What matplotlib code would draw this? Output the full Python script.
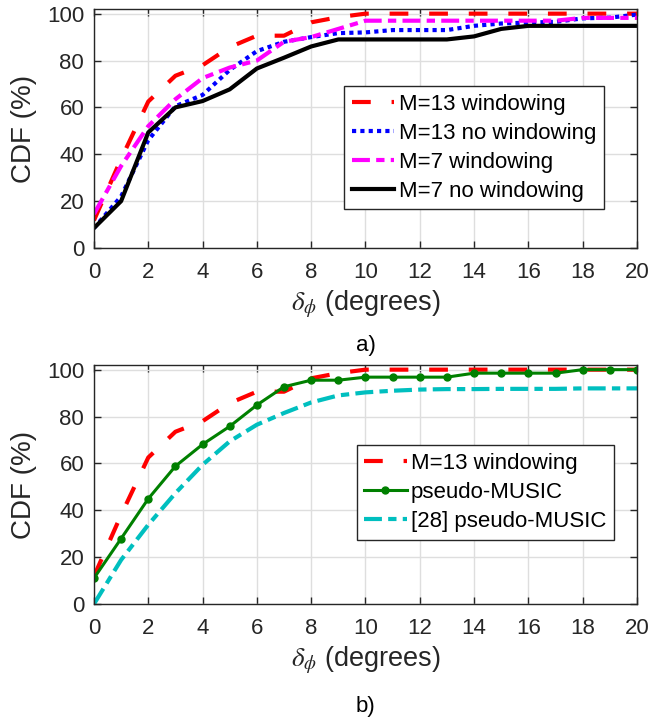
import numpy as np
import matplotlib
matplotlib.use('Agg')
import matplotlib.pyplot as plt

# error in degrees (x axis) and CDF values (%)
delta_phi = np.arange(0, 21)

m13_windowing = [11.8, 38, 62.5, 73.5, 78, 85.7, 90.6, 90.6, 96.3, 98.5, 100,
                 100, 100, 100, 100, 100, 100, 100, 100, 100, 100]
m13_no_windowing = [8.5, 22, 46, 60.5, 65.3, 76, 84, 88, 90, 91.7, 92,
                    93, 93, 93, 94.8, 95.8, 96.2, 96.5, 98, 98.3, 99.6]
m7_windowing = [14.5, 35, 52, 63.5, 72.5, 77, 80, 88, 90, 93.5, 97,
                97, 97, 97, 97, 97, 97, 97, 98.2, 98.2, 98.2]
m7_no_windowing = [8.5, 20, 49.3, 60, 62.7, 67.7, 76.6, 81.2, 86, 89, 89,
                   89, 89, 89, 90.3, 93.5, 94.8, 94.8, 94.8, 94.8, 94.8]
pseudo_music = [11, 27.9, 44.9, 58.8, 68.1, 75.8, 84.9, 92.7, 95.5, 95.5, 96.8,
                96.8, 96.8, 96.8, 98.5, 98.5, 98.5, 98.5, 100, 100, 100]
ref28_pseudo_music = [0, 18.8, 33.8, 47.3, 59.4, 69.4, 76.5, 81.5, 86, 89, 90.3,
                      91, 91.5, 91.7, 91.7, 91.8, 91.8, 91.8, 92, 92, 92]

x_ticks = list(range(0, 21, 2))
y_ticks = list(range(0, 101, 20))

plt.rcParams['font.family'] = ['Liberation Sans', 'DejaVu Sans']
plt.rcParams['mathtext.fontset'] = 'stix'

TXT = '#262626'


def style_axes(ax):
    ax.set_xlim(0, 20)
    ax.set_ylim(0, 102)
    ax.set_xticks(x_ticks)
    ax.set_yticks(y_ticks)
    ax.grid(True, color='#dedede', lw=1)
    ax.set_axisbelow(True)
    ax.tick_params(direction='in', top=True, right=True, length=5, width=1,
                   colors=TXT, labelsize=16)
    ax.tick_params(axis='x', pad=10)
    ax.tick_params(axis='y', pad=7)
    for s in ax.spines.values():
        s.set_color(TXT)
        s.set_linewidth(1)
    ax.set_xlabel(r'$\delta_{\phi}$ (degrees)', fontsize=19.5, color=TXT)
    ax.xaxis.set_label_coords(0.5, -0.17)
    ax.set_ylabel('CDF (%)', fontsize=20, color=TXT)
    ax.yaxis.set_label_coords(-0.105, 0.5)


def add_legend(ax, anchor):
    leg = ax.legend(loc='upper right', bbox_to_anchor=anchor, fontsize=16,
                    frameon=True, fancybox=False, edgecolor=TXT, framealpha=1,
                    handlelength=1.9, handletextpad=0.2, labelspacing=0.36,
                    borderpad=0.35, borderaxespad=0)
    leg.get_frame().set_linewidth(1)
    for t in leg.get_texts():
        t.set_color('black')


fig = plt.figure(figsize=(6.48, 7.18), dpi=100)

# a) windowing comparison
ax1 = fig.add_axes([0.145, 0.6546, 0.838, 0.3329])
ax1.plot(delta_phi, m13_windowing, color='red', lw=3, dashes=(4.5, 5),
         label='M=13 windowing')
ax1.plot(delta_phi, m13_no_windowing, color='blue', lw=3, dashes=(1, 1),
         label='M=13 no windowing')
ax1.plot(delta_phi, m7_windowing, color='magenta', lw=3, dashes=(4.3, 1.5, 2, 1.5),
         label='M=7 windowing')
ax1.plot(delta_phi, m7_no_windowing, color='black', lw=3,
         label='M=7 no windowing')
style_axes(ax1)
add_legend(ax1, (0.939, 0.678))

# b) pseudo-MUSIC comparison
ax2 = fig.add_axes([0.145, 0.1588, 0.838, 0.3329])
ax2.plot(delta_phi, m13_windowing, color='red', lw=3, dashes=(4.5, 5),
         label='M=13 windowing')
ax2.plot(delta_phi, pseudo_music, color='#008000', lw=2.2, marker='o',
         markersize=5, label='pseudo-MUSIC')
ax2.plot(delta_phi, ref28_pseudo_music, color='#00bfbf', lw=3,
         dashes=(4.3, 1.5, 2, 1.5), label='[28] pseudo-MUSIC')
style_axes(ax2)
add_legend(ax2, (0.958, 0.665))

fig.text(0.564, 0.519, 'a)', ha='center', va='center', fontsize=16, color='black')
fig.text(0.564, 0.0167, 'b)', ha='center', va='center', fontsize=16, color='black')

fig.savefig('out.png', dpi=100)
